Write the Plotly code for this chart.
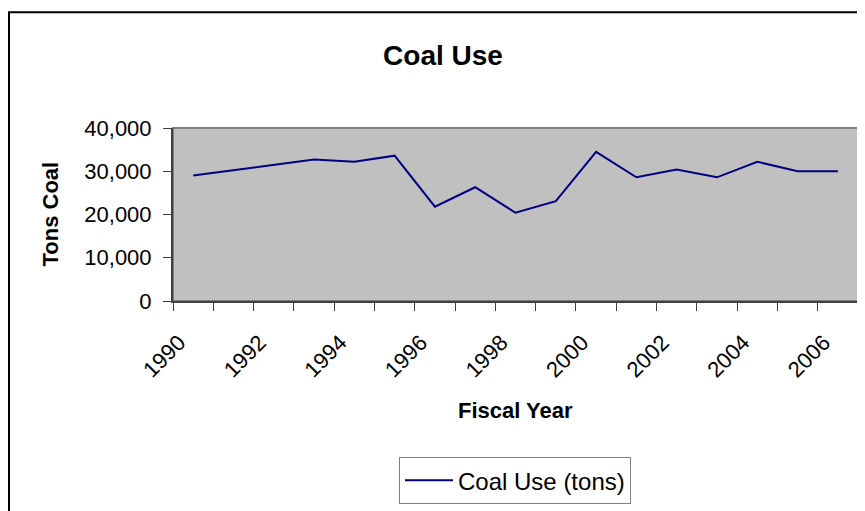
import plotly.graph_objects as go

years = list(range(1990, 2007))
coal_tons = [29000, 30200, 31500, 32700, 32200, 33600, 21800, 26300, 20400,
             23100, 34500, 28600, 30400, 28600, 32200, 30000, 30000]
y_ticks = [0, 10000, 20000, 30000, 40000]
x_label_years = list(range(1990, 2007, 2))
series_name = "Coal Use (tons)"

FONT = "Liberation Sans, Arial, sans-serif"

# page body has an 8px margin, so the figure is drawn from (8, 8)
OFF = 8
W, H = 865 - OFF, 511 - OFF
# plot area in screen pixels: x 173..858, y 128..303
ML, MR, MT, MB = 173 - OFF, 865 - 858, 128 - OFF, 511 - 303
PW, PH = W - ML - MR, H - MT - MB


def px_x(px):
    return (px - OFF - ML) / PW


def px_y(py):
    return (H - MB - (py - OFF)) / PH


fig = go.Figure()
fig.add_trace(go.Scatter(
    x=years, y=coal_tons, mode="lines", name=series_name,
    line=dict(color="#000080", width=2), showlegend=True,
))

fig.update_layout(
    width=W, height=H,
    margin=dict(l=ML, r=MR, t=MT, b=MB, pad=0),
    paper_bgcolor="white", plot_bgcolor="#C0C0C0",
    font=dict(family=FONT, color="black"),
    title=dict(text="<b>Coal Use</b>", x=(443 - OFF) / W, xanchor="center",
               y=1 - (55.5 - OFF) / H, yanchor="middle",
               font=dict(size=28, family=FONT, color="black")),
    showlegend=True,
    legend=dict(orientation="h", x=px_x(515), xanchor="center",
                y=px_y(461), yanchor="top", itemwidth=48,
                bordercolor="#808080", borderwidth=1, bgcolor="white",
                font=dict(size=24, family=FONT, color="black")),
    xaxis=dict(
        range=[1989.5, 2006.5], tickmode="array", tickvals=x_label_years,
        ticktext=[str(v) for v in x_label_years], tickangle=-45,
        ticks="", showgrid=False, zeroline=False,
        ticklabelstandoff=18, ticklabelshift=-14,
        showline=True, linecolor="#404040", linewidth=2,
        tickfont=dict(size=22, family=FONT, color="black"),
        minor=dict(tickvals=[y - 0.5 for y in years] + [2006.5],
                   ticks="outside", ticklen=8, tickcolor="#404040",
                   tickwidth=1, showgrid=False),
    ),
    yaxis=dict(
        range=[0, 40000], tickmode="array", tickvals=y_ticks,
        tickformat=",", ticks="outside", ticklen=8, tickcolor="#404040",
        ticklabelstandoff=7,
        showgrid=False, zeroline=False,
        showline=True, linecolor="#404040", linewidth=2,
        tickfont=dict(size=22, family=FONT, color="black"),
    ),
    shapes=[
        dict(type="rect", xref="paper", yref="paper", x0=0, x1=1, y0=0, y1=1,
             line=dict(color="#808080", width=2), layer="below"),
        dict(type="rect", xref="paper", yref="paper",
             x0=px_x(9), x1=px_x(880), y0=px_y(540), y1=px_y(11),
             line=dict(color="black", width=2)),
    ],
    annotations=[
        dict(text="<b>Fiscal Year</b>", xref="paper", yref="paper",
             x=0.5, y=px_y(414), xanchor="center", yanchor="middle",
             showarrow=False, font=dict(size=22, family=FONT, color="black")),
        dict(text="<b>Tons Coal</b>", xref="paper", yref="paper",
             x=px_x(50), y=0.5, xanchor="center", yanchor="middle",
             textangle=-90, showarrow=False,
             font=dict(size=22, family=FONT, color="black")),
    ],
)

fig.write_html("out.html")
